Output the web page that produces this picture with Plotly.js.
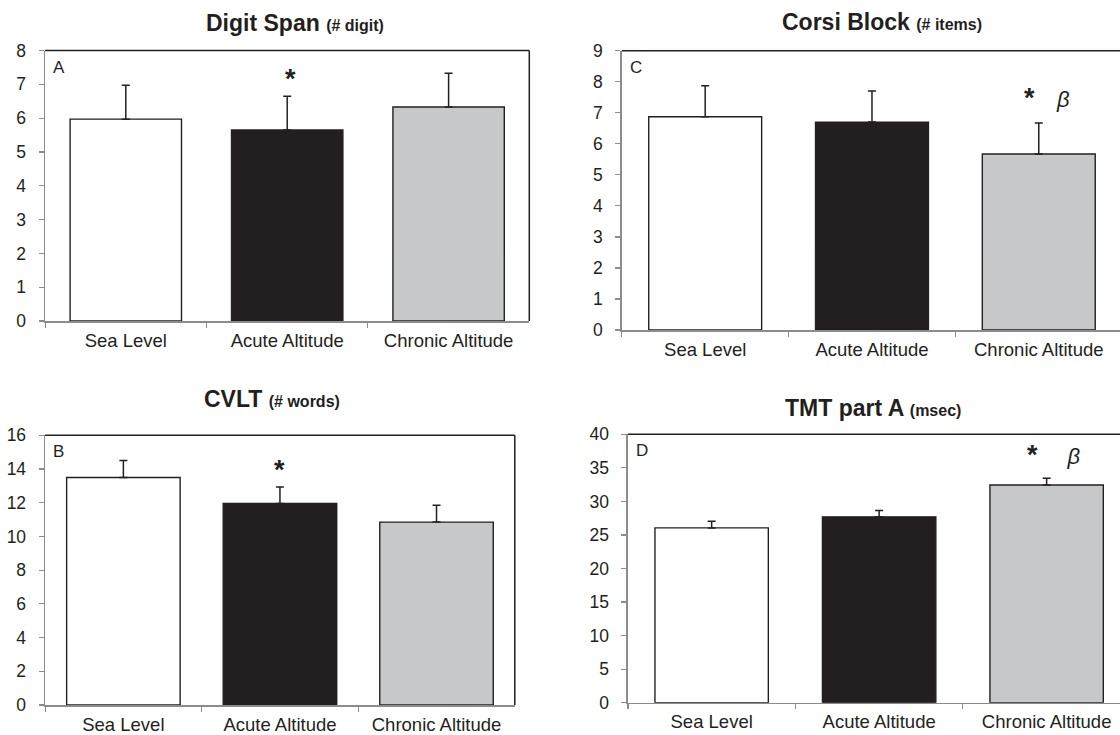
<!DOCTYPE html>
<html>
<head>
<meta charset="utf-8">
<script src="https://cdn.plot.ly/plotly-3.0.1.min.js"></script>
<style>html,body{margin:0;padding:0;background:#fff;}#chart{width:1120px;height:735px;}</style>
</head>
<body>
<div id="chart"></div>
<script>
// ---- data ----
const categories = ['Sea Level', 'Acute Altitude', 'Chronic Altitude'];
const digitSpan   = [5.97, 5.65, 6.33];
const digitSpanSD = [1.0, 1.0, 1.0];
const cvlt        = [13.5, 11.95, 10.85];
const cvltSD      = [1.0, 0.98, 1.0];
const corsi       = [6.87, 6.70, 5.67];
const corsiSD     = [1.0, 1.0, 1.0];
const tmt         = [26.05, 27.7, 32.45];
const tmtSD       = [1.0, 0.95, 1.0];

const barColors = ['#ffffff', '#231f20', '#c7c8ca'];
const ink = '#231f20';
const axisGrey = '#8c8c8c';
const FONT = 'Arial, "Liberation Sans", sans-serif';

function barTrace(vals, sd, xa, ya, w) {
  return {
    type: 'bar', x: categories, y: vals, xaxis: xa, yaxis: ya, width: w,
    marker: {color: barColors, line: {color: ink, width: 1.4}},
    error_y: {type: 'data', array: sd, symmetric: false, arrayminus: [0, 0, 0],
              color: ink, thickness: 1.5, width: 4},
    hoverinfo: 'skip', showlegend: false
  };
}

const data = [
  barTrace(digitSpan, digitSpanSD, 'x', 'y', 0.69),
  barTrace(cvlt, cvltSD, 'x2', 'y2', 0.725),
  barTrace(corsi, corsiSD, 'x3', 'y3', 0.677),
  barTrace(tmt, tmtSD, 'x4', 'y4', 0.677)
];

function xAxis(domain, range, anchor) {
  return {domain: domain, range: range, anchor: anchor, type: 'category',
    showline: true, linecolor: axisGrey, linewidth: 1.5,
    ticks: 'outside', tickson: 'boundaries', ticklen: 5, tickcolor: axisGrey, tickwidth: 1.2,
    ticklabelstandoff: 2,
    showgrid: false, zeroline: false, fixedrange: true,
    tickfont: {family: FONT, size: 18.5, color: ink}};
}
function yAxis(domain, range, dtick, anchor) {
  return {domain: domain, range: range, dtick: dtick, anchor: anchor,
    showline: true, linecolor: axisGrey, linewidth: 1.5,
    ticks: 'outside', ticklen: 5, tickcolor: axisGrey, tickwidth: 1.2,
    ticklabelstandoff: 9,
    showgrid: false, zeroline: false, fixedrange: true,
    tickfont: {family: FONT, size: 17.5, color: ink}};
}

const W = 1120, H = 735;
const px = v => v / W, py = v => 1 - v / H;

const layout = {
  width: W, height: H, autosize: false,
  margin: {l: 0, r: 0, t: 0, b: 0},
  paper_bgcolor: '#fff', plot_bgcolor: '#fff',
  font: {family: FONT, color: ink},
  xaxis:  xAxis([px(45.1), px(529.3)], [-0.5, 2.5], 'y'),
  yaxis:  yAxis([py(321), py(50.5)], [0, 8], 1, 'x'),
  xaxis2: xAxis([px(45.1), px(514.8)], [-0.5, 2.5], 'y2'),
  yaxis2: yAxis([py(705), py(435.3)], [0, 16], 2, 'x2'),
  xaxis3: xAxis([px(621.8), 1], [-0.5, 2.487], 'y3'),
  yaxis3: yAxis([py(330), py(50.7)], [0, 9], 1, 'x3'),
  xaxis4: xAxis([px(627.9), 1], [-0.5, 2.438], 'y4'),
  yaxis4: yAxis([py(702.7), py(434.3)], [0, 40], 5, 'x4'),
  shapes: [],
  annotations: []
};

// frame lines (top + right where visible)
[['x', 'y', true], ['x2', 'y2', true], ['x3', 'y3', false], ['x4', 'y4', false]].forEach(([xa, ya, right]) => {
  layout.shapes.push({type: 'line', xref: xa + ' domain', yref: ya + ' domain', x0: 0, x1: 1, y0: 1, y1: 1,
    line: {color: ink, width: 1.5}});
  if (right) layout.shapes.push({type: 'line', xref: xa + ' domain', yref: ya + ' domain', x0: 1, x1: 1, y0: 0, y1: 1,
    line: {color: ink, width: 1.5}});
});

// titles
const titles = [
  ['Digit Span', '(# digit)', 295, 22.7],
  ['CVLT', '(# words)', 272, 399.3],
  ['Corsi Block', '(# items)', 881.6, 22.3],
  ['TMT part A', '(msec)', 872.5, 408.3]
];
titles.forEach(([main, sub, x, y]) => {
  layout.annotations.push({xref: 'paper', yref: 'paper', x: px(x), y: py(y), xanchor: 'center', yanchor: 'middle',
    showarrow: false,
    text: '<b>' + main + ' <span style="font-size:16px">' + sub + '</span></b>',
    font: {family: FONT, size: 23, color: ink}});
});

// panel letters
[['A', 'x', 'y'], ['B', 'x2', 'y2'], ['C', 'x3', 'y3'], ['D', 'x4', 'y4']].forEach(([t, xa, ya]) => {
  layout.annotations.push({xref: xa + ' domain', yref: ya + ' domain', x: 0, y: 1, xanchor: 'left', yanchor: 'top',
    xshift: 6, yshift: -5, showarrow: false, text: t, font: {family: FONT, size: 17, color: ink}});
});

// significance marks
function star(xa, ya, cat, top, shift, txt, xs) {
  layout.annotations.push({xref: xa, yref: ya, x: cat, y: top, yanchor: 'bottom', xanchor: 'center',
    yshift: shift, xshift: xs || 0, showarrow: false, text: txt,
    font: {family: FONT, size: 27, color: ink}});
}
const beta = '<span style="font-size:22px"><i>β</i></span>';
star('x', 'y', categories[1], digitSpan[1] + digitSpanSD[1], 0, '<b>*</b>', 3);
star('x2', 'y2', categories[1], cvlt[1] + cvltSD[1], 0, '<b>*</b>', 0);
star('x3', 'y3', categories[2], corsi[2] + corsiSD[2], 8, '<b>*</b>&nbsp;&nbsp;&nbsp;' + beta, 8);
star('x4', 'y4', categories[2], tmt[2] + tmtSD[2], 6, '<b>*</b>&nbsp;&nbsp;&nbsp;&nbsp;' + beta, 7);

Plotly.newPlot('chart', data, layout, {staticPlot: true, displayModeBar: false});
</script>
</body>
</html>
